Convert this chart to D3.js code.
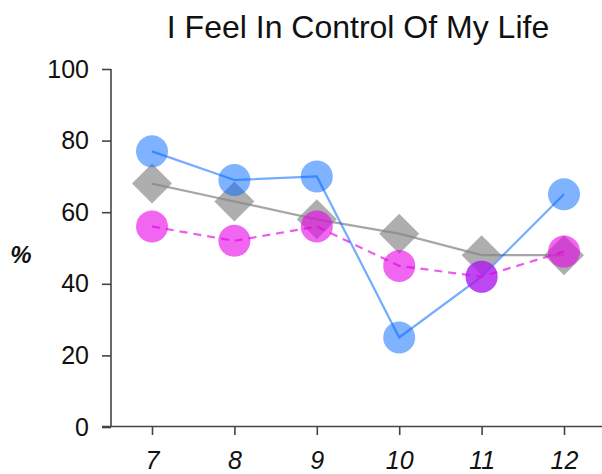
<!DOCTYPE html>
<html>
<head>
<meta charset="utf-8">
<script src="https://cdn.jsdelivr.net/npm/d3@7"></script>
<style>
  html, body { margin: 0; padding: 0; background: #fff; }
  svg { display: block; font-family: "Liberation Sans", Arial, Helvetica, sans-serif; }
</style>
</head>
<body>
<svg id="chart" width="602" height="474"></svg>
<script>
// Grade levels along the x axis
const grades = [7, 8, 9, 10, 11, 12];
// Percent agreeing, per group
const blueValues = [77, 69, 70, 25, 42, 65];
const grayValues = [68, 63, 58, 54, 48, 48];
const pinkValues = [56, 52, 56, 45, 42, 49];
const yTicks = [0, 20, 40, 60, 80, 100];

const svg = d3.select("#chart");

const x = d3.scalePoint().domain(grades).range([152, 564]);
const y = d3.scaleLinear().domain([0, 100]).range([427, 69]);

// Title
svg.append("text")
  .attr("x", 358).attr("y", 38)
  .attr("text-anchor", "middle")
  .attr("font-size", 32)
  .attr("fill", "#111")
  .text("I Feel In Control Of My Life");

// Y axis
const yAxis = svg.append("g")
  .attr("transform", "translate(111,0)")
  .call(d3.axisLeft(y).tickValues(yTicks).tickSize(9).tickPadding(13));
yAxis.select(".domain").attr("stroke", "#444").attr("stroke-width", 1.6).attr("d", `M0,${y(100)}V${y(0)}`);
yAxis.selectAll(".tick line").attr("stroke", "#444").attr("stroke-width", 1.6);
yAxis.selectAll(".tick text").attr("font-size", 25).attr("fill", "#111")
  .attr("font-family", "Liberation Sans, Arial, sans-serif");

// X axis baseline
svg.append("line")
  .attr("x1", 102).attr("x2", 602)
  .attr("y1", 426.5).attr("y2", 426.5)
  .attr("stroke", "#444").attr("stroke-width", 1.6);

// X axis ticks and labels
const xAxis = svg.append("g")
  .attr("transform", "translate(0,427)")
  .call(d3.axisBottom(x).tickSize(8).tickPadding(16).tickSizeOuter(0));
xAxis.select(".domain").remove();
xAxis.selectAll(".tick line").attr("stroke", "#444").attr("stroke-width", 1.6);
xAxis.selectAll(".tick text").attr("font-size", 25).attr("fill", "#111")
  .attr("font-style", "italic")
  .attr("font-family", "Liberation Sans, Arial, sans-serif");

// Y axis label
svg.append("text")
  .attr("x", 21).attr("y", 263)
  .attr("text-anchor", "middle")
  .attr("font-size", 24)
  .attr("font-weight", "bold")
  .attr("font-style", "italic")
  .attr("fill", "#111")
  .text("%");

const line = d3.line().x((d, i) => x(grades[i])).y(d => y(d));

function drawSeries(values, opts) {
  const g = svg.append("g");
  g.append("path")
    .datum(values)
    .attr("d", line)
    .attr("fill", "none")
    .attr("stroke", opts.color)
    .attr("stroke-opacity", opts.lineOpacity)
    .attr("stroke-width", 2.2)
    .attr("stroke-dasharray", opts.dash || null);
  if (opts.shape === "diamond") {
    const sym = d3.symbol().type(d3.symbolSquare).size(800);
    g.selectAll("path.mark").data(values).join("path")
      .attr("class", "mark")
      .attr("d", sym)
      .attr("transform", (d, i) => `translate(${x(grades[i])},${y(d)}) rotate(45)`)
      .attr("fill", opts.color)
      .attr("fill-opacity", opts.fillOpacity);
  } else {
    g.selectAll("circle").data(values).join("circle")
      .attr("cx", (d, i) => x(grades[i]))
      .attr("cy", d => y(d))
      .attr("r", 16)
      .attr("fill", opts.color)
      .attr("fill-opacity", opts.fillOpacity);
  }
}

drawSeries(grayValues, { color: "#888888", shape: "diamond", fillOpacity: 0.68, lineOpacity: 0.75 });
drawSeries(blueValues, { color: "#0066ff", shape: "circle", fillOpacity: 0.5, lineOpacity: 0.55 });
drawSeries(pinkValues, { color: "#e600e6", shape: "circle", fillOpacity: 0.6, lineOpacity: 0.65, dash: "8,6" });
</script>
</body>
</html>
